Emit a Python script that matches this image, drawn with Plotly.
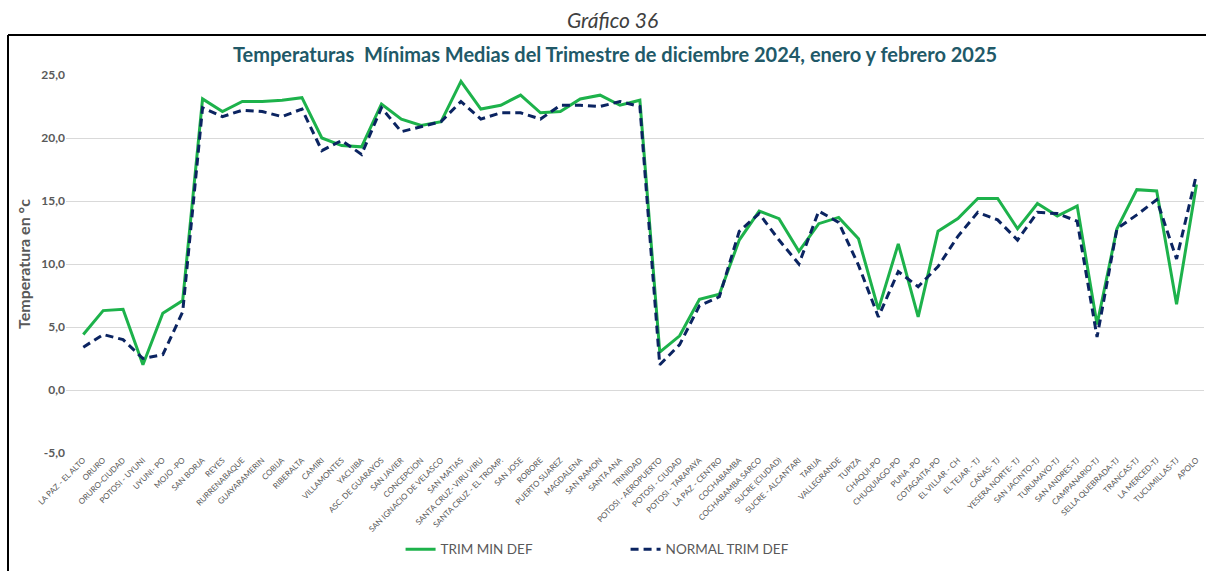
import plotly.graph_objects as go

# Estaciones (orden del eje X)
estaciones = [
    "LA PAZ - EL ALTO", "ORURO", "ORURO-CIUDAD", "POTOSI - UYUNI", "UYUNI- PO",
    "MOJO -PO", "SAN BORJA", "REYES", "RURRENABAQUE", "GUAYARAMERIN",
    "COBIJA", "RIBERALTA", "CAMIRI", "VILLAMONTES", "YACUIBA",
    "ASC. DE GUARAYOS", "SAN JAVIER", "CONCEPCION", "SAN IGNACIO DE VELASCO", "SAN MATIAS",
    "SANTA CRUZ- VIRU VIRU", "SANTA CRUZ - EL TROMP.", "SAN JOSE", "ROBORE", "PUERTO SUAREZ",
    "MAGDALENA", "SAN RAMON", "SANTA ANA", "TRINIDAD", "POTOSI - AEROPUERTO",
    "POTOSI - CIUDAD", "POTOSI - TARAPAYA", "LA PAZ - CENTRO", "COCHABAMBA", "COCHABAMBA SARCO",
    "SUCRE (CIUDAD)", "SUCRE - ALCANTARI", "TARIJA", "VALLEGRANDE", "TUPIZA",
    "CHAQUI-PO", "CHUQUIAGO-PO", "PUNA -PO", "COTAGAITA-PO", "EL VILLAR - CH",
    "EL TEJAR - TJ", "CAÑAS- TJ", "YESERA NORTE- TJ", "SAN JACINTO-TJ", "TURUMAYO-TJ",
    "SAN ANDRES-TJ", "CAMPANARIO-TJ", "SELLA QUEBRADA-TJ", "TRANCAS-TJ", "LA MERCED-TJ",
    "TUCUMILLAS-TJ", "APOLO",
]

# Temperatura mínima media del trimestre (°C)
trim_min_def = [
    4.4, 6.3, 6.4, 2.0, 6.1, 7.1, 23.1, 22.1, 22.9, 22.9,
    23.0, 23.2, 20.0, 19.4, 19.3, 22.7, 21.5, 21.0, 21.3, 24.5,
    22.3, 22.6, 23.4, 22.0, 22.1, 23.1, 23.4, 22.6, 23.0, 3.0,
    4.3, 7.2, 7.6, 11.9, 14.2, 13.6, 11.0, 13.2, 13.7, 12.0,
    6.4, 11.6, 5.8, 12.6, 13.6, 15.2, 15.2, 12.8, 14.8, 13.8,
    14.6, 5.2, 12.8, 15.9, 15.8, 6.8, 16.3,
]

# Normal del trimestre (°C)
normal_trim_def = [
    3.4, 4.4, 4.0, 2.5, 2.8, 6.2, 22.4, 21.7, 22.2, 22.1,
    21.7, 22.3, 19.0, 19.8, 18.7, 22.4, 20.5, 20.9, 21.3, 22.9,
    21.5, 22.0, 22.0, 21.5, 22.6, 22.6, 22.5, 22.9, 22.5, 2.0,
    3.6, 6.7, 7.4, 12.6, 14.0, 11.9, 10.0, 14.2, 13.3, 9.9,
    5.8, 9.4, 8.2, 9.8, 12.2, 14.1, 13.5, 11.9, 14.1, 14.0,
    13.4, 4.2, 12.8, 13.9, 15.1, 10.4, 17.1,
]

y_ticks = [-5, 0, 5, 10, 15, 20, 25]
y_tick_text = ["<b>-5,0</b>", "<b>0,0</b>", "<b>5,0</b>", "<b>10,0</b>",
               "<b>15,0</b>", "<b>20,0</b>", "<b>25,0</b>"]

gris = "#595959"

fig = go.Figure()
fig.add_trace(go.Scatter(
    x=estaciones, y=trim_min_def, mode="lines", name="TRIM MIN DEF",
    line=dict(color="#1DB24B", width=3),
))
fig.add_trace(go.Scatter(
    x=estaciones, y=normal_trim_def, mode="lines", name="NORMAL TRIM DEF",
    line=dict(color="#0B2461", width=3, dash="8px,5px"),
))

fig.update_layout(
    width=1206, height=571,
    margin=dict(l=66, r=2, t=75, b=118),
    paper_bgcolor="white", plot_bgcolor="white",
    font=dict(family="Lato, Open Sans, sans-serif", color=gris),
    title=dict(
        text="<b>Temperaturas  Mínimas Medias del Trimestre de diciembre 2024, enero y febrero 2025</b>",
        x=0.51, xanchor="center", y=1 - 55 / 571, yanchor="middle",
        font=dict(size=20, color="#215968", family="Lato, Open Sans, sans-serif"),
    ),
    xaxis=dict(
        type="category", range=[-0.87, 56.38],
        tickangle=-45, tickfont=dict(size=8, color=gris),
        showgrid=False, showline=False, ticks="", zeroline=False,
    ),
    yaxis=dict(
        range=[-5, 25], tickvals=y_ticks, ticktext=y_tick_text,
        tickfont=dict(size=12, color=gris),
        showgrid=True, gridcolor="#D9D9D9", gridwidth=1,
        zeroline=False, showline=False, ticks="",
        title=dict(text="<b>Temperatura en °c</b>", font=dict(size=16, color=gris), standoff=6),
    ),
    legend=dict(
        orientation="h", x=0.294, xanchor="left", y=-0.255, yanchor="middle",
        font=dict(size=13.5, color=gris),
        entrywidth=180, entrywidthmode="pixels",
        bgcolor="rgba(0,0,0,0)",
    ),
    showlegend=True,
)

# Rótulo del gráfico y marco
fig.add_annotation(
    text="<i>Gráfico 36</i>", xref="paper", yref="paper",
    x=(612 - 66) / 1138, y=(453 - 20) / 378, xanchor="center", yanchor="middle",
    showarrow=False, font=dict(size=21, color="#404040", family="Lato, Open Sans, sans-serif"),
)
fig.add_shape(type="line", xref="paper", yref="paper",
              x0=-58 / 1138, x1=1.01, y0=(453 - 35) / 378, y1=(453 - 35) / 378,
              line=dict(color="black", width=2))
fig.add_shape(type="line", xref="paper", yref="paper",
              x0=-58 / 1138, x1=-58 / 1138, y0=(453 - 35) / 378, y1=-0.32,
              line=dict(color="black", width=2))

fig.write_html("out.html")
